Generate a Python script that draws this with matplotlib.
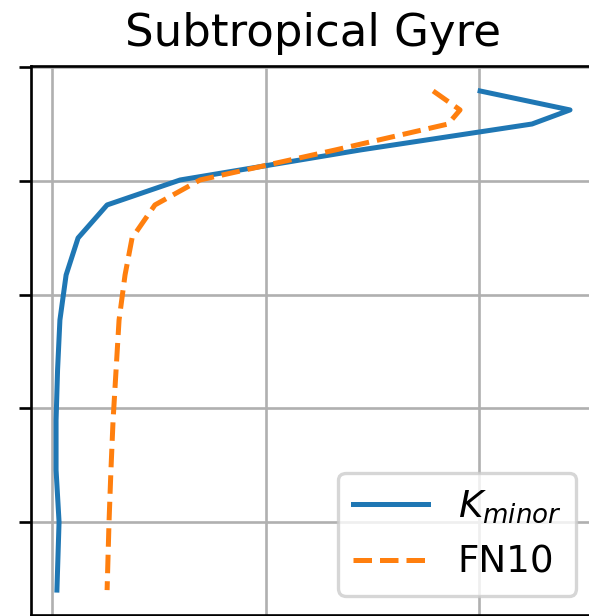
import matplotlib
matplotlib.use("Agg")
import matplotlib.pyplot as plt

# data (x in grid-tick units, depth in tick units, increasing downward)
depth = [0.207, 0.374, 0.498, 0.727, 0.991, 1.211, 1.502, 1.828, 2.225, 2.665, 3.106, 3.546, 4.004, 4.604]
k_minor = [2.005, 2.426, 2.248, 1.443, 0.600, 0.258, 0.122, 0.066, 0.037, 0.026, 0.019, 0.019, 0.033, 0.023]
fn10 = [1.785, 1.911, 1.855, 1.326, 0.693, 0.482, 0.375, 0.342, 0.314, 0.300, 0.286, 0.276, 0.267, 0.258]
xticks = [0, 1, 2]
yticks = [0, 1, 2, 3, 4]
title = "Subtropical Gyre"
labels = ["$K_{minor}$", "FN10"]

W, H, DPI = 589, 616, 240
fig = plt.figure(figsize=(W / DPI, H / DPI), dpi=DPI)
left, right, top, bottom = 31.3, 595, 66, 614.5
ax = fig.add_axes([left / W, (H - bottom) / H, (right - left) / W, (bottom - top) / H])

ax.plot(k_minor, depth, color="#1f77b4", lw=1.5, label=labels[0])
ax.plot(fn10, depth, color="#ff7f0e", lw=1.5, ls="--", label=labels[1])

ax.set_xlim(-0.097, 2.543)
ax.set_ylim(4.819, -0.013)
ax.set_xticks(xticks)
ax.set_yticks(yticks)
ax.set_xticklabels([])
ax.set_yticklabels([])
ax.grid(True)
ax.set_title(title, fontsize=13.5)
ax.legend(loc="lower right", fontsize=11.2)

fig.savefig("out.png", dpi=DPI)
